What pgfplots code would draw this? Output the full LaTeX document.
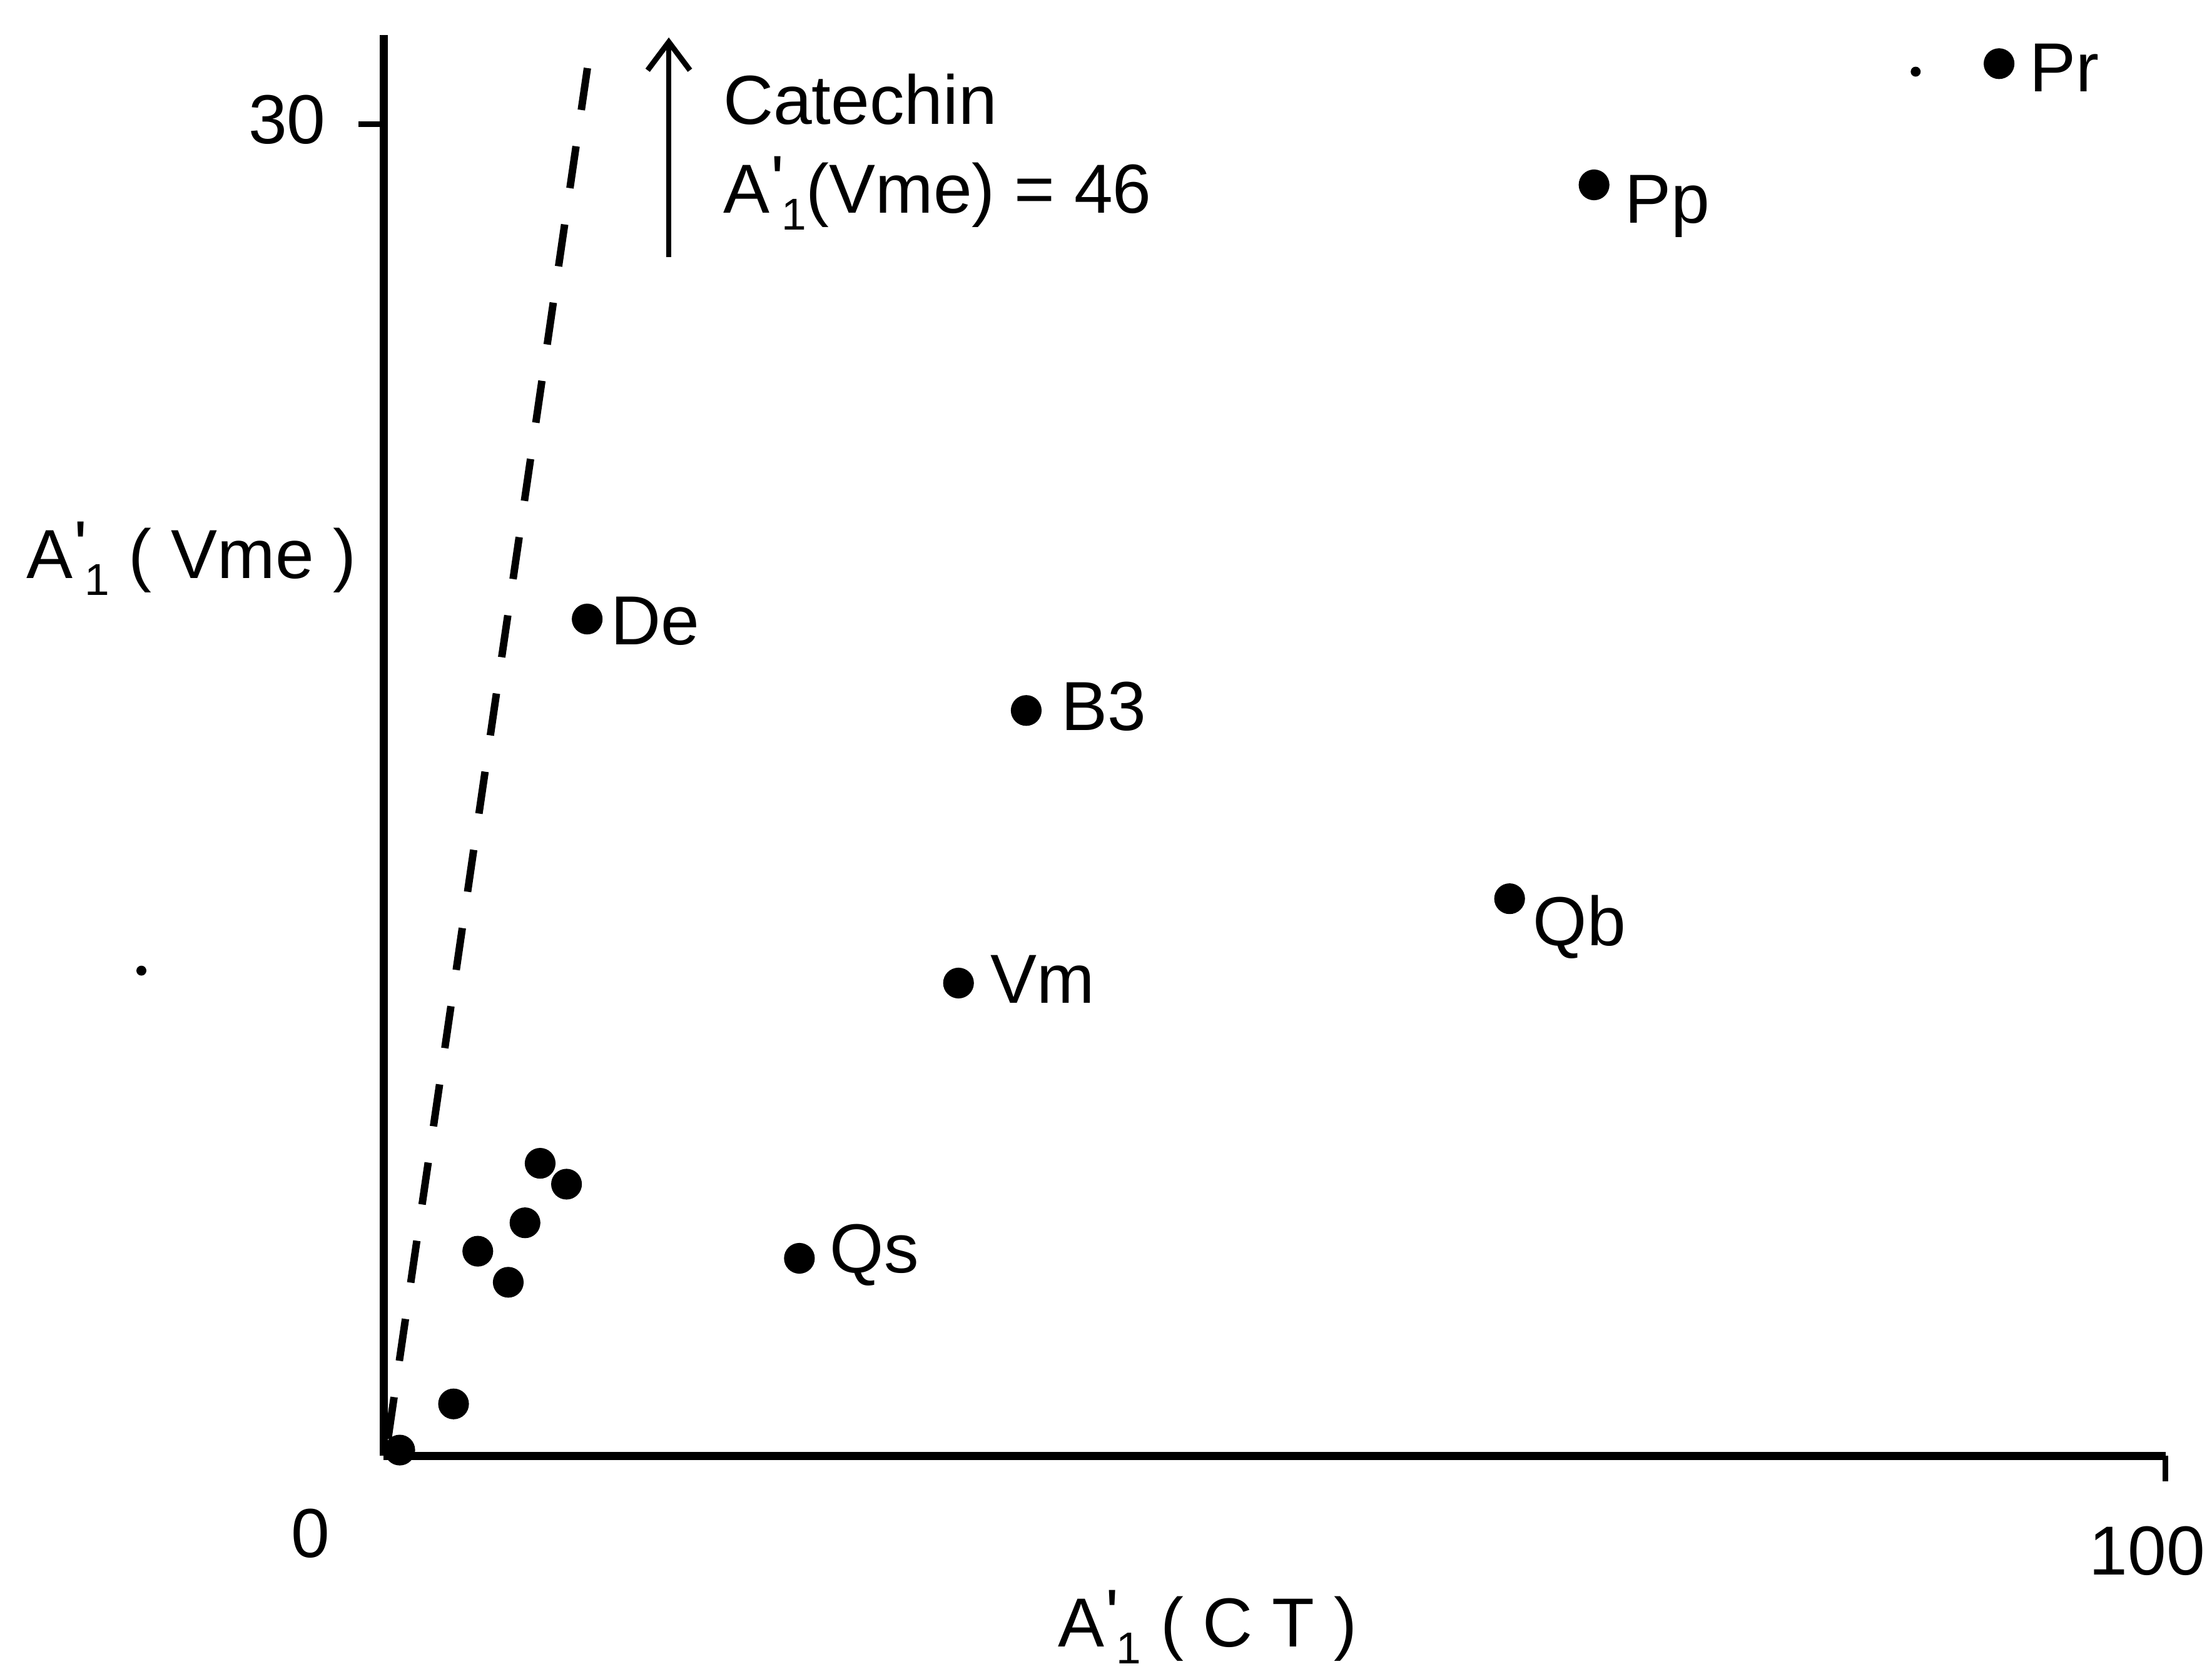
\documentclass[border=0pt]{standalone}
\usepackage{fontspec}
\setmainfont{Liberation Sans}
\usepackage{pgfplots}
\pgfplotsset{compat=1.18}
\usetikzlibrary{arrows.meta}

% A'_1 as used in the axis labels
\newcommand{\Ap}{A\kern0.1mm\raisebox{0.6mm}{\textquotesingle}\kern-0.2mm\raisebox{-1.2mm}{\fontsize{9}{9}\selectfont 1}}

\begin{document}
\fontsize{14}{17}\selectfont
\begin{tikzpicture}
\begin{axis}[
  at={(0,0)}, anchor=south west,
  scale only axis, width=126.3mm, height=100.7mm,
  xmin=0, xmax=100, ymin=0, ymax=32,
  axis x line*=bottom, axis y line*=left,
  axis line style={line width=1.6pt, -},
  xtick={100}, ytick={30},
  tick align=outside,
  major tick length=1.8mm,
  tick style={line width=1.2pt, black},
  /pgf/number format/assume math mode=true,
  ticklabel style={font=\fontsize{14}{17}\selectfont},
  xticklabel style={xshift=-1.3mm, yshift=-1.5mm},
  yticklabel style={xshift=-0.6mm, yshift=0.3mm},
  clip=false,
]
% samples
\addplot[only marks, mark=*, mark size=2.9pt, black] coordinates {
  (0.9,0.13) (3.92,1.17) (5.28,4.61) (6.99,3.91) (7.93,5.25)
  (8.78,6.59) (10.26,6.12)
  (23.33,4.45) (32.26,10.65) (36.06,16.79) (11.42,18.85)
  (63.19,12.55) (67.93,28.63) (90.66,31.36)
};
% small specks
\addplot[only marks, mark=*, mark size=0.8pt, black] coordinates {
  (85.98,31.18) (-13.6,10.93)
};
% boundary line
\addplot[black, line width=1.5pt, dash pattern=on 3mm off 2.6mm] coordinates {
  (0.24,0.38) (11.7,32)
};

% point names
\node[anchor=base west, inner sep=0, xshift=2.1mm, yshift=-2.0mm] at (axis cs:90.66,31.36) {Pr};
\node[anchor=base west, inner sep=0, xshift=2.1mm, yshift=-2.7mm] at (axis cs:67.93,28.63) {Pp};
\node[anchor=base west, inner sep=0, xshift=1.6mm, yshift=-1.8mm] at (axis cs:11.42,18.85) {De};
\node[anchor=base west, inner sep=0, xshift=2.4mm, yshift=-1.4mm] at (axis cs:36.06,16.79) {B3};
\node[anchor=base west, inner sep=0, xshift=1.6mm, yshift=-3.3mm] at (axis cs:63.19,12.55) {Qb};
\node[anchor=base west, inner sep=0, xshift=2.2mm, yshift=-1.4mm] at (axis cs:32.26,10.65) {Vm};
\node[anchor=base west, inner sep=0, xshift=2.1mm, yshift=-1.0mm] at (axis cs:23.33,4.45) {Qs};

% catechin lies off the scale
\draw[line width=1.1pt, -{Straight Barb[length=2mm, width=3mm, line width=1.1pt]}]
  (axis cs:16,27) -- (axis cs:16,31.95);
\node[anchor=base west, inner sep=0] at (axis cs:19,30) {Catechin};
\node[anchor=base west, inner sep=0] at (axis cs:19,28) {\Ap(Vme) = 46};

% axis titles and origin
\node[anchor=base west, inner sep=0] at (axis cs:-20.1,19.77) {\Ap\ ( Vme )};
\node[anchor=base west, inner sep=0] at (axis cs:37.8,-4.3) {\Ap\ ( C T )};
\node[inner sep=0] at (axis cs:-4.1,-1.75) {0};
\end{axis}
\pgfresetboundingbox
\path[use as bounding box] (-27.2mm,-15.1mm) rectangle (129.6mm,103.2mm);
\end{tikzpicture}
\end{document}
